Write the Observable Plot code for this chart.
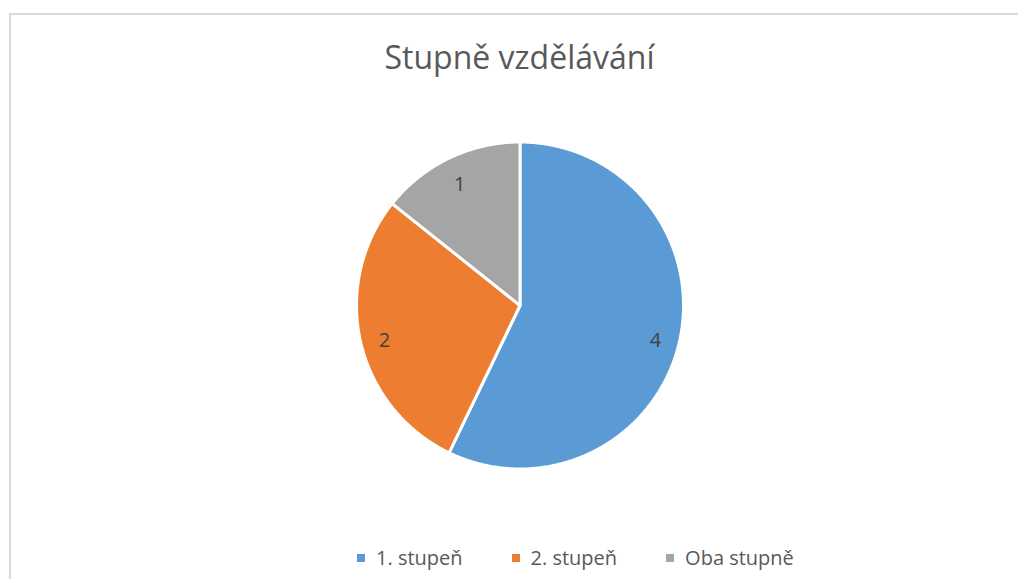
<!DOCTYPE html>
<html>
<head>
<meta charset="utf-8">
<script src="https://cdn.jsdelivr.net/npm/d3@7"></script>
<script src="https://cdn.jsdelivr.net/npm/@observablehq/plot@0.6"></script>
<style>
  html, body { margin: 0; padding: 0; background: #fff; overflow: hidden; width: 1018px; height: 579px; }
  #frame { position: absolute; left: 9px; top: 13px; width: 1100px; height: 700px; border: 2px solid #d9d9d9; box-sizing: border-box; }
  #chart { position: absolute; left: 9px; top: 0; width: 1021px; }
  #title { height: 100px; box-sizing: border-box; padding-top: 41px; font: 32px "Open Sans", sans-serif; line-height: 32px; color: #595959; text-align: center; }
  #plot svg { display: block; }
  .lg-swatches { min-height: 0 !important; margin: 0 !important; padding-top: 24px; padding-left: 348px; font: 20px "Open Sans", sans-serif !important; line-height: 20px; color: #595959; display: flex; align-items: center; }
  .lg-swatch { margin-right: 49px !important; display: inline-flex; align-items: center; }
  .lg-swatch svg { margin-right: 11px !important; }
</style>
</head>
<body>
<div id="frame"></div>
<div id="chart">
  <div id="title">Stupně vzdělávání</div>
  <div id="plot"></div>
  <div id="legend"></div>
</div>
<script>
const categories = ["1. stupeň", "2. stupeň", "Oba stupně"];
const values = [4, 2, 1];
const colors = ["#5B9BD5", "#ED7D31", "#A5A5A5"];

const arcs = d3.pie().sort(null).value((d, i) => values[i])(categories);

const slicePoints = [];
const labels = [];
arcs.forEach((a, i) => {
  const cat = categories[i];
  slicePoints.push({cat, x: 0, y: 0});
  const n = Math.max(2, Math.ceil((a.endAngle - a.startAngle) / (Math.PI / 360)));
  for (let k = 0; k <= n; k++) {
    const t = a.startAngle + (a.endAngle - a.startAngle) * k / n;
    slicePoints.push({cat, x: Math.sin(t), y: Math.cos(t)});
  }
  const mid = (a.startAngle + a.endAngle) / 2;
  labels.push({cat, v: String(values[i]), x: 0.85 * Math.sin(mid), y: 0.85 * Math.cos(mid)});
});

const cx = 510.5, cy = 205, r = 163.5;
const chart = Plot.plot({
  width: 1021,
  height: 420,
  margin: 0,
  style: {fontFamily: "Open Sans, sans-serif", background: "transparent"},
  x: {domain: [-1, 1], range: [cx - r, cx + r], axis: null},
  y: {domain: [-1, 1], range: [cy + r, cy - r], axis: null},
  color: {type: "ordinal", domain: categories, range: colors},
  marks: [
    Plot.line(slicePoints, {x: "x", y: "y", z: "cat", fill: "cat", stroke: "white", strokeWidth: 3, strokeLinejoin: "round", curve: "linear-closed"}),
    Plot.text(labels, {x: "x", y: "y", text: "v", fontSize: 20, fill: "#404040", dy: 4})
  ]
});
document.getElementById("plot").appendChild(chart);

const legend = Plot.legend({
  color: {type: "ordinal", domain: categories, range: colors},
  swatchSize: 8,
  className: "lg"
});
document.getElementById("legend").appendChild(legend);
</script>
</body>
</html>
